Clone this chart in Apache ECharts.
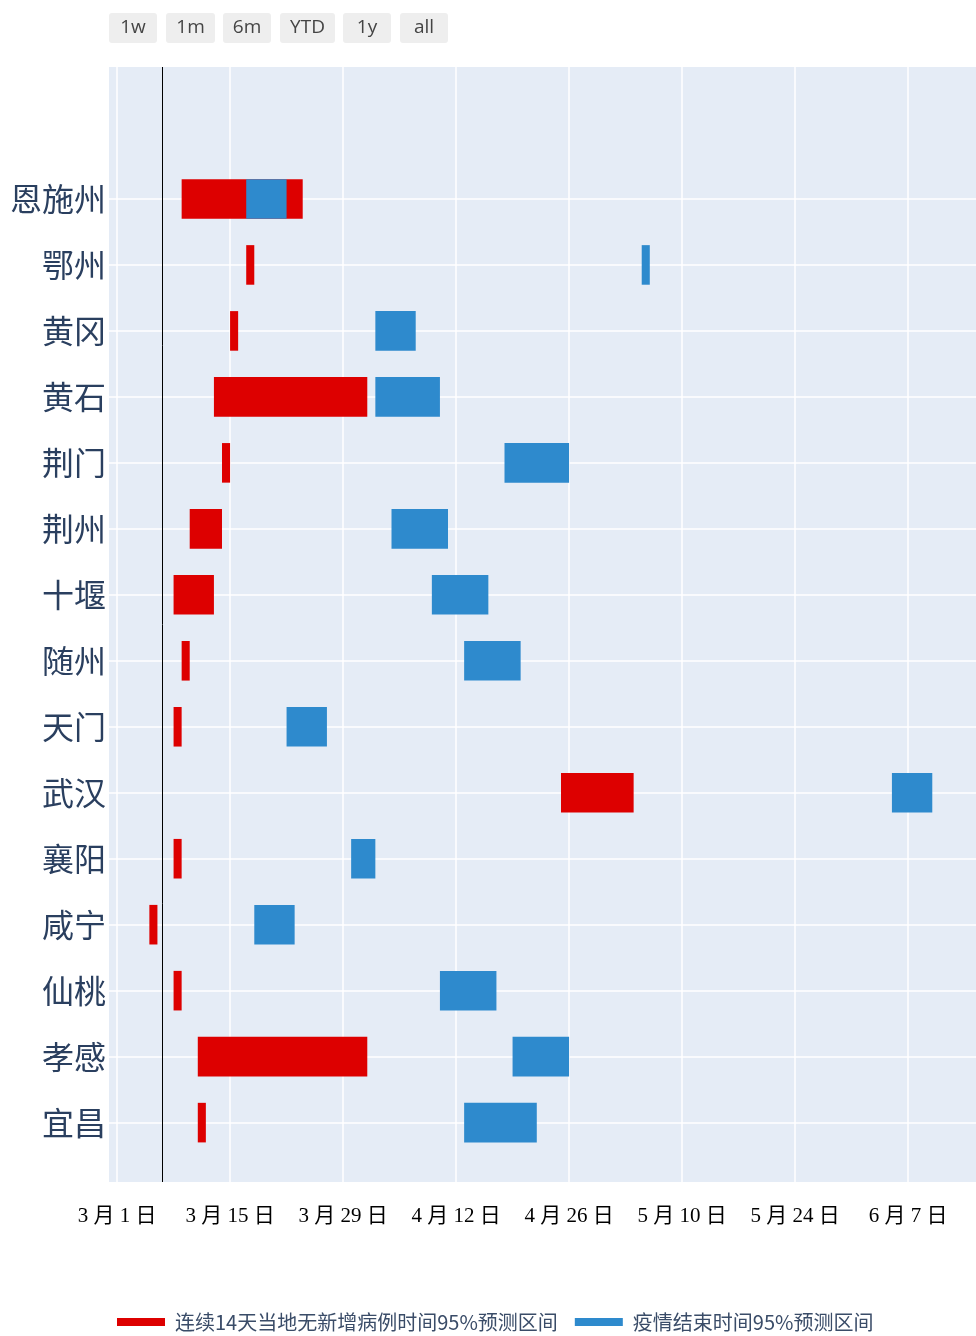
<!DOCTYPE html>
<html>
<head>
<meta charset="utf-8">
<script src="https://cdn.jsdelivr.net/npm/echarts@6/dist/echarts.min.js"></script>
<style>
  html, body { margin: 0; padding: 0; background: #ffffff; }
  #chart { width: 976px; height: 1336px; }
</style>
</head>
<body>
<div id="chart"></div>
<script>
// ---------- data (top row first, as in the picture) ----------
const cities = ['恩施州','鄂州','黄冈','黄石','荆门','荆州','十堰','随州','天门','武汉','襄阳','咸宁','仙桃','孝感','宜昌'];
const redStart  = ['2020-03-09','2020-03-17','2020-03-15','2020-03-13','2020-03-14','2020-03-10','2020-03-08','2020-03-09','2020-03-08','2020-04-25','2020-03-08','2020-03-05','2020-03-08','2020-03-11','2020-03-11'];
const redEnd    = ['2020-03-24','2020-03-18','2020-03-16','2020-04-01','2020-03-15','2020-03-14','2020-03-13','2020-03-10','2020-03-09','2020-05-04','2020-03-09','2020-03-06','2020-03-09','2020-04-01','2020-03-12'];
const blueStart = ['2020-03-17','2020-05-05','2020-04-02','2020-04-02','2020-04-18','2020-04-04','2020-04-09','2020-04-13','2020-03-22','2020-06-05','2020-03-30','2020-03-18','2020-04-10','2020-04-19','2020-04-13'];
const blueEnd   = ['2020-03-22','2020-05-06','2020-04-07','2020-04-10','2020-04-26','2020-04-11','2020-04-16','2020-04-20','2020-03-27','2020-06-10','2020-04-02','2020-03-23','2020-04-17','2020-04-26','2020-04-22'];
const markerDate = '2020-03-06T13:00:00Z';
const axisStart = '2020-02-29';
const axisEnd = '2020-06-15T10:00:00Z';
const tickDates = ['2020-03-01','2020-03-15','2020-03-29','2020-04-12','2020-04-26','2020-05-10','2020-05-24','2020-06-07'];
const redName = '连续14天当地无新增病例时间95%预测区间';
const blueName = '疫情结束时间95%预测区间';
const buttons = ['1w','1m','6m','YTD','1y','all'];

// ---------- helpers ----------
const DAY = 86400000;
const ORIGIN = Date.parse('2020-03-01T00:00:00Z');
function toDay(s) {
  const t = s.length <= 10 ? Date.parse(s + 'T00:00:00Z') : Date.parse(s);
  return (t - ORIGIN) / DAY;
}
function dayLabel(v) {
  const d = new Date(ORIGIN + Math.round(v) * DAY);
  return (d.getUTCMonth() + 1) + ' 月 ' + d.getUTCDate() + ' 日';
}
const n = cities.length;
const rowIndex = i => n - 1 - i;
const redData = cities.map((c, i) => [rowIndex(i), toDay(redStart[i]), toDay(redEnd[i])]);
const blueData = cities.map((c, i) => [rowIndex(i), toDay(blueStart[i]), toDay(blueEnd[i])]);
const yTicks = cities.map((c, i) => i);
const xTicks = tickDates.map(toDay);
const xMin = toDay(axisStart), xMax = toDay(axisEnd);

function renderBar(params, api) {
  const y = api.value(0);
  const s = api.coord([api.value(1), y]);
  const e = api.coord([api.value(2), y]);
  const h = api.size([0, 0.6])[1];
  return {
    type: 'rect',
    shape: { x: s[0], y: s[1] - h / 2, width: e[0] - s[0], height: h },
    style: api.style()
  };
}

const chart = echarts.init(document.getElementById('chart'), null, { renderer: 'canvas' });

// range selector buttons (UI decoration)
const btnX = [109, 166, 223, 280, 343, 400];
const btnW = [48, 49, 48, 55, 48, 48];
const graphics = buttons.map((b, i) => ({
  type: 'group',
  left: btnX[i], top: 13,
  children: [
    { type: 'rect', shape: { x: 0, y: 0, width: btnW[i], height: 30, r: 3 }, style: { fill: '#eeeeee' } },
    { type: 'text', style: { x: btnW[i] / 2, y: 15, text: b, fill: '#444444', font: '19px "Open Sans", sans-serif', align: 'center', verticalAlign: 'middle' } }
  ],
  onclick: function () {
    const spans = { '1w': 7, '1m': 30, '6m': 182, '1y': 365 };
    let mn = xMin, mx = xMax;
    if (b !== 'all' && b !== 'YTD') { mn = xMax - spans[b]; }
    chart.setOption({ xAxis: { min: mn, max: mx } });
  }
}));

chart.setOption({
  animation: false,
  backgroundColor: '#ffffff',
  graphic: graphics,
  grid: { left: 109, right: 0, top: 67, bottom: 154, show: true, backgroundColor: '#e5ecf6', borderWidth: 0 },
  legend: {
    left: 117, top: 1312, padding: 0,
    icon: 'rect', itemWidth: 48, itemHeight: 8, itemGap: 17,
    textStyle: { fontSize: 20, color: '#3a4c68', fontFamily: '"Noto Sans CJK SC", "Noto Sans", sans-serif', padding: [0, 0, 0, 5] },
    data: [redName, blueName]
  },
  xAxis: {
    type: 'value', min: xMin, max: xMax,
    axisLine: { show: false }, axisTick: { show: false, customValues: xTicks },
    splitLine: { show: true, lineStyle: { color: '#ffffff', width: 1.5 } },
    axisLabel: {
      customValues: xTicks, formatter: dayLabel, margin: 24,
      fontSize: 21, color: '#000000', fontFamily: '"Liberation Serif", "Noto Sans CJK SC", serif'
    }
  },
  yAxis: {
    type: 'value', min: -0.9, max: 16,
    axisLine: { show: false }, axisTick: { show: false, customValues: yTicks },
    splitLine: { show: true, lineStyle: { color: '#ffffff', width: 1.5 } },
    axisLabel: {
      customValues: yTicks, margin: 3,
      formatter: v => cities[n - 1 - Math.round(v)] || '',
      fontSize: 32, color: '#2a3f5f', fontFamily: '"Noto Sans CJK SC", sans-serif'
    }
  },
  series: [
    {
      name: redName, type: 'custom', renderItem: renderBar,
      itemStyle: { color: '#dd0000' },
      encode: { x: [1, 2], y: 0 },
      data: redData,
      markLine: {
        silent: true, symbol: ['none', 'none'],
        label: { show: false },
        lineStyle: { color: '#000000', width: 1, type: 'solid' },
        data: [{ xAxis: toDay(markerDate) }]
      }
    },
    {
      name: blueName, type: 'custom', renderItem: renderBar,
      itemStyle: { color: '#2e8acd' },
      encode: { x: [1, 2], y: 0 },
      data: blueData
    }
  ]
});
</script>
</body>
</html>
